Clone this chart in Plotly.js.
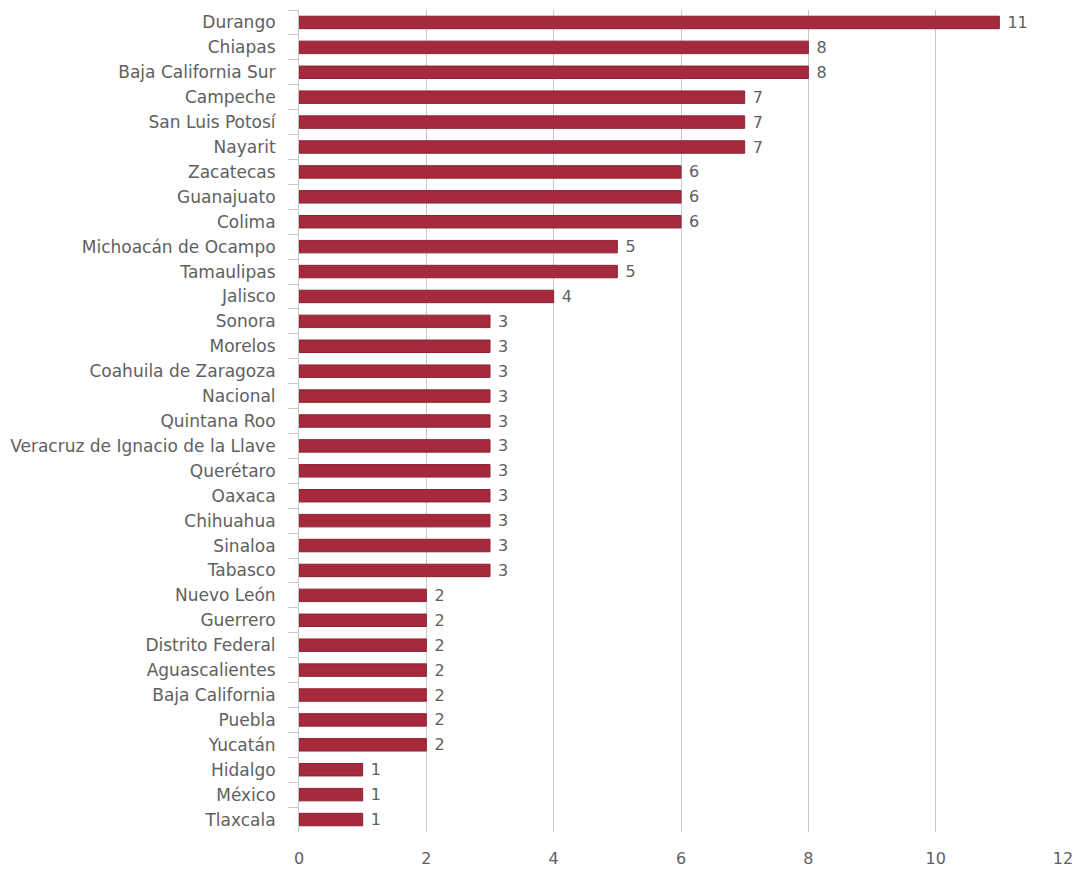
<!DOCTYPE html>
<html>
<head>
<meta charset="utf-8">
<script src="https://cdn.plot.ly/plotly-3.0.1.min.js"></script>
<style>html,body{margin:0;padding:0;background:#fff;}#chart{width:1081px;height:873px;}</style>
</head>
<body>
<div id="chart"></div>
<script>
const states = ["Durango","Chiapas","Baja California Sur","Campeche","San Luis Potosí","Nayarit","Zacatecas","Guanajuato","Colima","Michoacán de Ocampo","Tamaulipas","Jalisco","Sonora","Morelos","Coahuila de Zaragoza","Nacional","Quintana Roo","Veracruz de Ignacio de la Llave","Querétaro","Oaxaca","Chihuahua","Sinaloa","Tabasco","Nuevo León","Guerrero","Distrito Federal","Aguascalientes","Baja California","Puebla","Yucatán","Hidalgo","México","Tlaxcala"];
const values = [11,8,8,7,7,7,6,6,6,5,5,4,3,3,3,3,3,3,3,3,3,3,3,2,2,2,2,2,2,2,1,1,1];
const xTicks = [0,2,4,6,8,10,12];

const FONT = 'DejaVu Sans, Verdana, sans-serif';
const TXT = '#606060';

const trace = {
  type: 'bar',
  orientation: 'h',
  x: values,
  y: states,
  text: values.map(String),
  texttemplate: ' %{text}',
  textposition: 'outside',
  constraintext: 'none',
  textfont: {family: FONT, size: 16, color: TXT},
  cliponaxis: false,
  marker: {color: '#a52a3e', line: {color: '#8e2234', width: 1}},
  hoverinfo: 'none'
};

const layout = {
  width: 1081, height: 873,
  margin: {l: 299, r: 18, t: 10, b: 41},
  paper_bgcolor: '#fff', plot_bgcolor: '#fff',
  bargap: 0.5,
  showlegend: false,
  font: {family: FONT, size: 17, color: TXT},
  xaxis: {
    range: [0, 12], tickvals: xTicks, ticktext: xTicks.map(String),
    showgrid: true, gridcolor: '#c8c8c8', gridwidth: 1,
    zeroline: false, showline: false, ticks: '',
    ticklabelstandoff: 15,
    tickfont: {family: FONT, size: 16, color: TXT}
  },
  yaxis: {
    type: 'category', autorange: 'reversed',
    showgrid: false, zeroline: false,
    showline: true, linecolor: '#c8c8c8', linewidth: 1,
    ticks: 'outside', tickson: 'boundaries', ticklen: 10, tickcolor: '#c8c8c8',
    ticklabelstandoff: 19,
    tickfont: {family: FONT, size: 17, color: TXT}
  }
};

Plotly.newPlot('chart', [trace], layout, {displayModeBar: false, staticPlot: true});
</script>
</body>
</html>
